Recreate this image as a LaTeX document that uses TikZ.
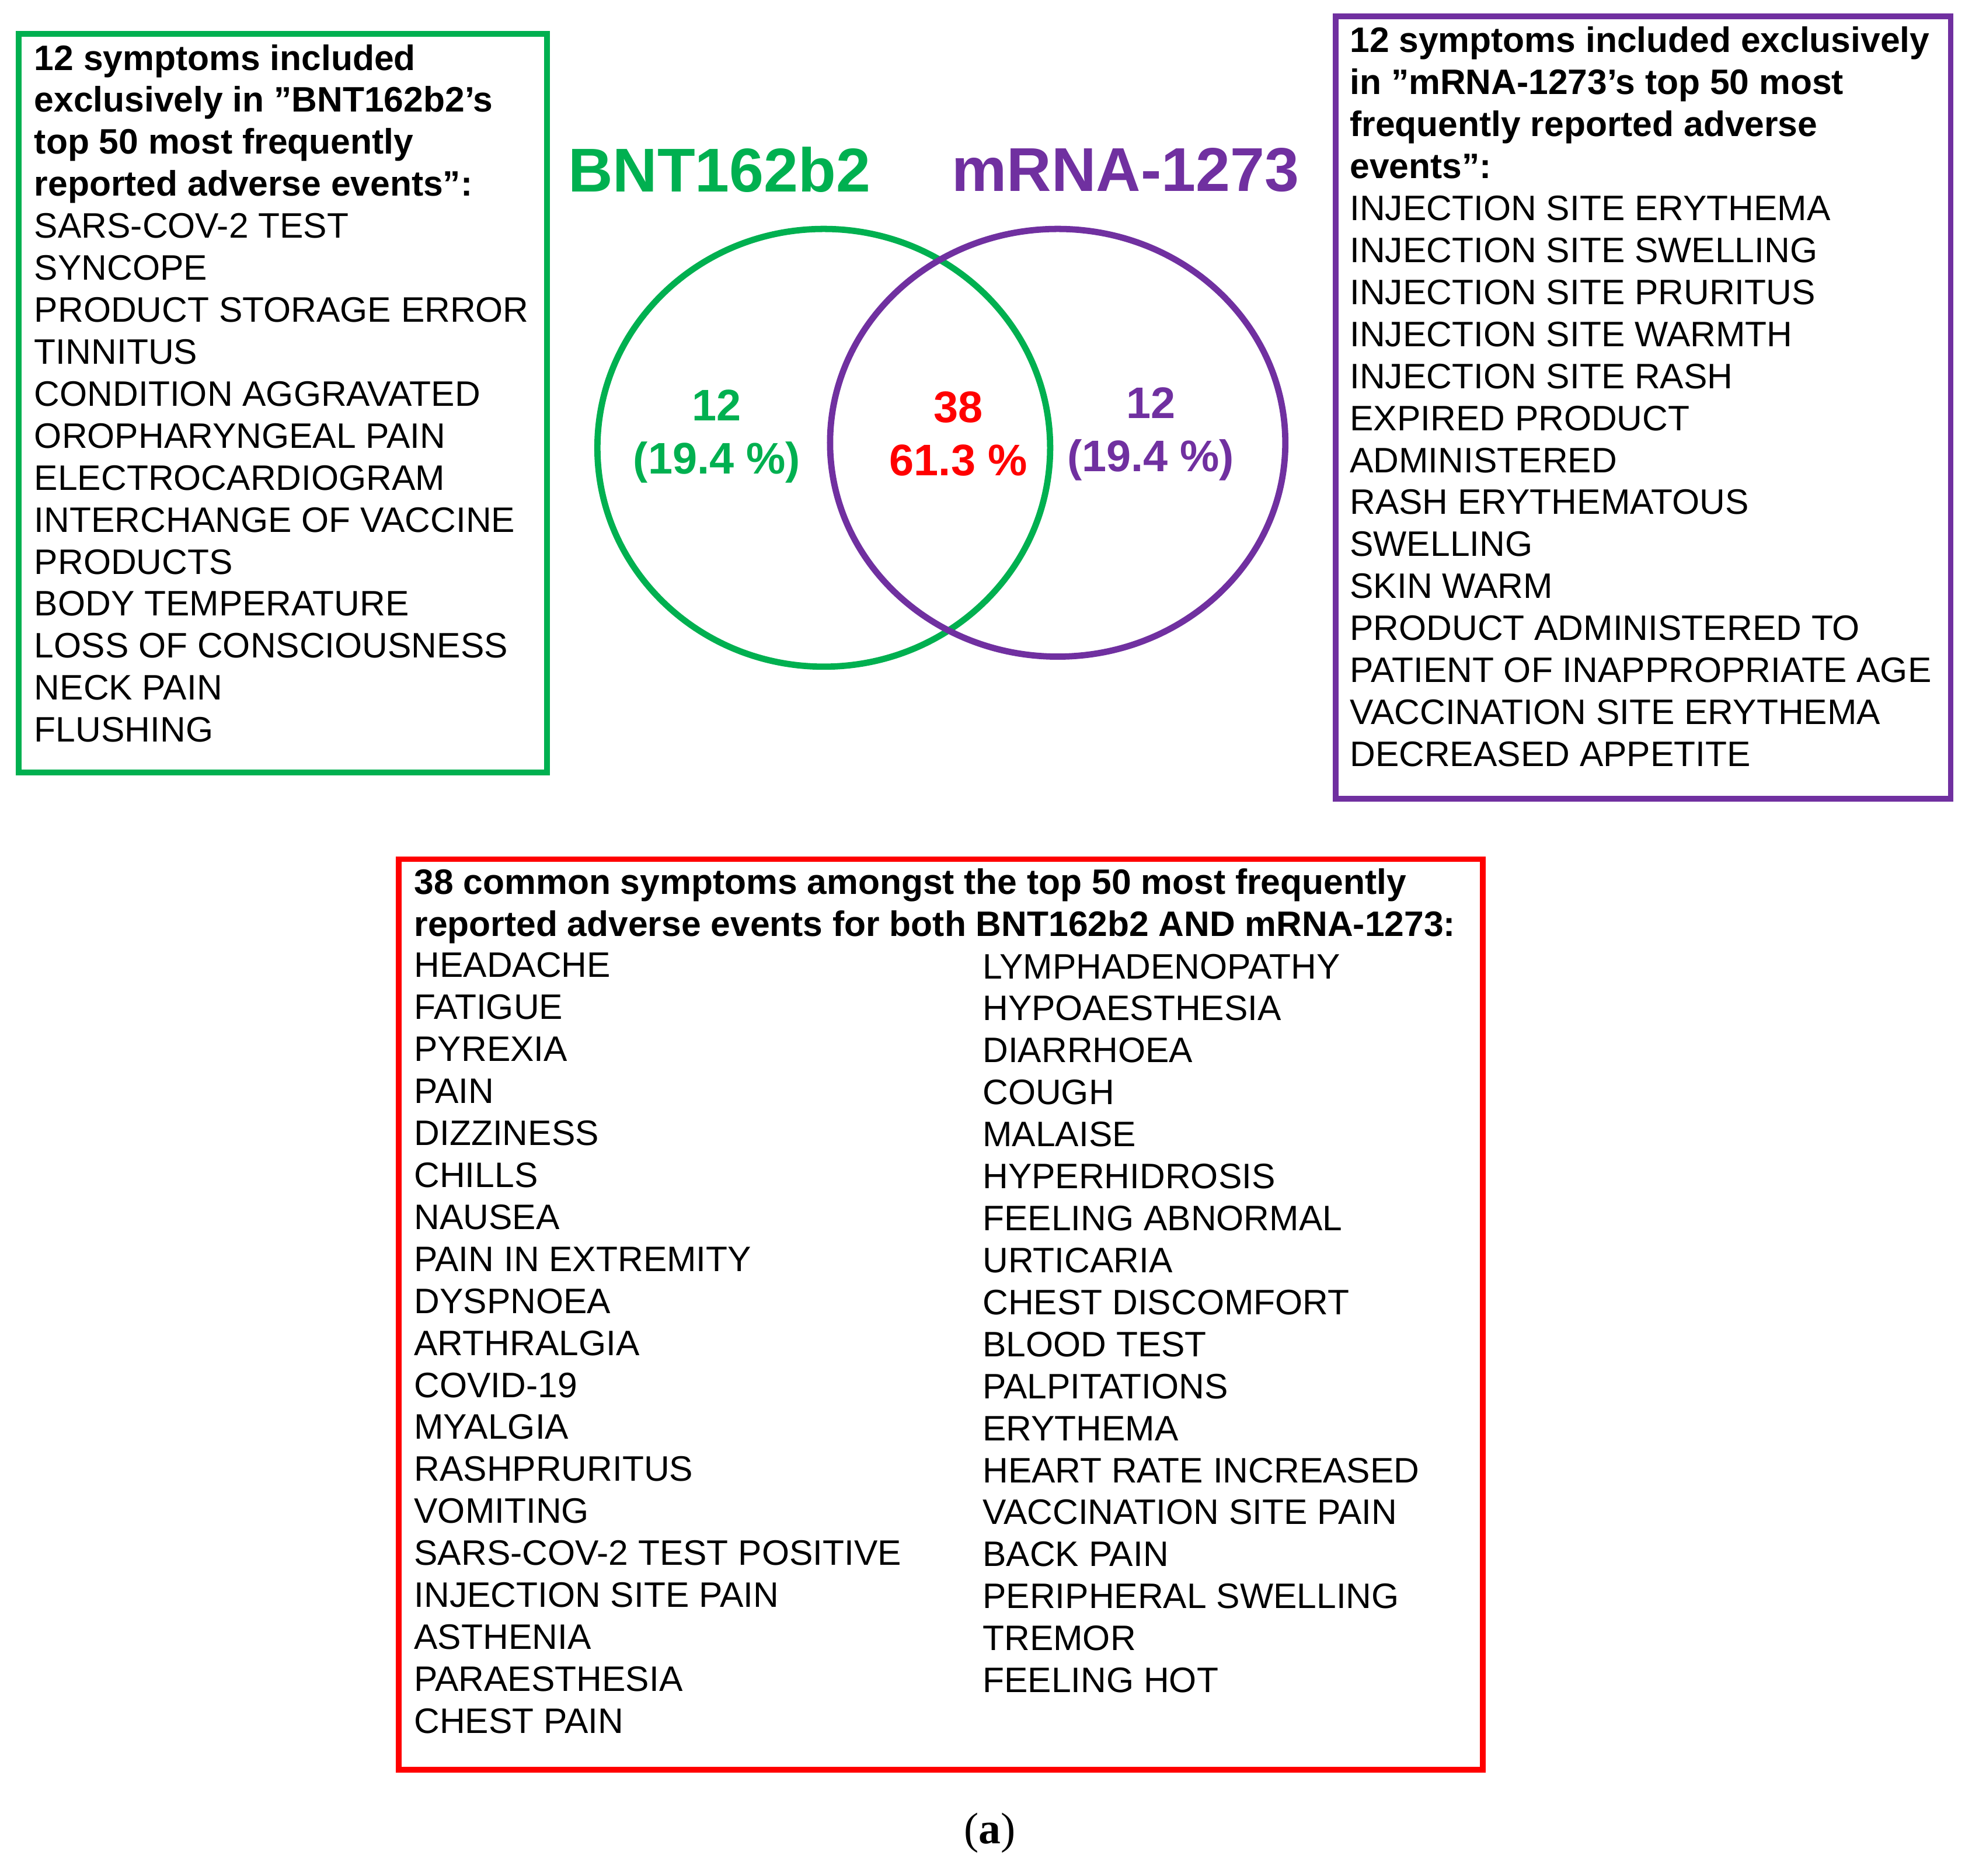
\documentclass[tikz,border=0pt]{standalone}
\usepackage{fontspec}
\setmainfont{Liberation Sans}
\newfontfamily\serifa{Liberation Serif}
\definecolor{vgreen}{RGB}{0,176,80}
\definecolor{vpurple}{RGB}{112,48,160}
\definecolor{vred}{RGB}{255,0,0}
\begin{document}
\begin{tikzpicture}[x=0.02cm,y=-0.02cm,
  lst/.style={anchor=north west,inner sep=0pt,align=left,font=\fontsize{16}{19}\selectfont},
  num/.style={font=\fontsize{20}{24}\selectfont\bfseries,align=center,inner sep=0pt},
  ttl/.style={font=\fontsize{28}{32}\selectfont\bfseries,inner sep=0pt}]
\useasboundingbox (0,0) rectangle (1568,1491);
\draw[vgreen,line width=0.09cm] (15,27) rectangle (435,614);
\draw[vpurple,line width=0.09cm] (1062,13) rectangle (1551,635);
\draw[vred,line width=0.09cm] (317,683) rectangle (1179,1407);
\node[lst] (lt) at (27,35) {\textbf{12 symptoms included}\\\textbf{exclusively in "BNT162b2's}\\\textbf{top 50 most frequently}\\\textbf{reported adverse events":}\\
SARS-COV-2 TEST\\SYNCOPE\\PRODUCT STORAGE ERROR\\TINNITUS\\CONDITION AGGRAVATED\\OROPHARYNGEAL PAIN\\ELECTROCARDIOGRAM\\INTERCHANGE OF VACCINE\\PRODUCTS\\BODY TEMPERATURE\\LOSS OF CONSCIOUSNESS\\NECK PAIN\\FLUSHING};
\node[lst] (rt) at (1073,21) {\textbf{12 symptoms included exclusively}\\\textbf{in "mRNA-1273's top 50 most}\\\textbf{frequently reported adverse}\\\textbf{events":}\\
INJECTION SITE ERYTHEMA\\INJECTION SITE SWELLING\\INJECTION SITE PRURITUS\\INJECTION SITE WARMTH\\INJECTION SITE RASH\\EXPIRED PRODUCT\\ADMINISTERED\\RASH ERYTHEMATOUS\\SWELLING\\SKIN WARM\\PRODUCT ADMINISTERED TO\\PATIENT OF INAPPROPRIATE AGE\\VACCINATION SITE ERYTHEMA\\DECREASED APPETITE};
\node[lst] (ch) at (329,690) {\textbf{38 common symptoms amongst the top 50 most frequently}\\\textbf{reported adverse events for both BNT162b2 AND mRNA-1273:}};
\node[lst] (cl) at (329,757) {HEADACHE\\FATIGUE\\PYREXIA\\PAIN\\DIZZINESS\\CHILLS\\NAUSEA\\PAIN IN EXTREMITY\\DYSPNOEA\\ARTHRALGIA\\COVID-19\\MYALGIA\\RASHPRURITUS\\VOMITING\\SARS-COV-2 TEST POSITIVE\\INJECTION SITE PAIN\\ASTHENIA\\PARAESTHESIA\\CHEST PAIN};
\node[lst] (cr) at (781,758) {LYMPHADENOPATHY\\HYPOAESTHESIA\\DIARRHOEA\\COUGH\\MALAISE\\HYPERHIDROSIS\\FEELING ABNORMAL\\URTICARIA\\CHEST DISCOMFORT\\BLOOD TEST\\PALPITATIONS\\ERYTHEMA\\HEART RATE INCREASED\\VACCINATION SITE PAIN\\BACK PAIN\\PERIPHERAL SWELLING\\TREMOR\\FEELING HOT};
\draw[vgreen,line width=0.1cm] (655,356) ellipse [x radius=180,y radius=174];
\draw[vpurple,line width=0.1cm] (841,352) ellipse [x radius=181,y radius=170];
\node[ttl,text=vgreen] (tb) at (572,135) {BNT162b2};
\node[ttl,text=vpurple] (tm) at (895,135) {mRNA-1273};
\node[num,text=vgreen] (n1) at (570,347) {12\\(19.4 \%)};
\node[num,text=vred] (n2) at (762,345) {38\\61.3 \%};
\node[num,text=vpurple] (n3) at (915,345) {12\\(19.4 \%)};
\node[font=\fontsize{20}{24}\selectfont\serifa,inner sep=0pt] (cap) at (787,1457) {(\textbf{a})};
\end{tikzpicture}
\end{document}
